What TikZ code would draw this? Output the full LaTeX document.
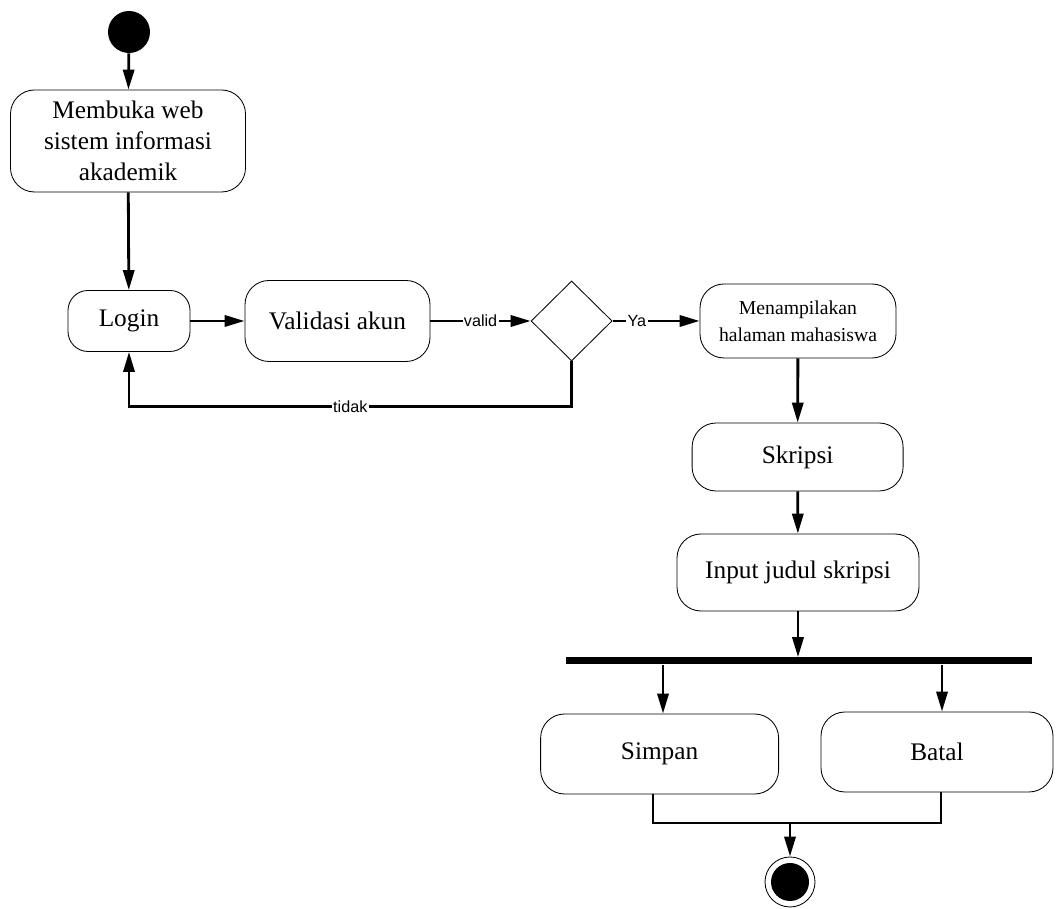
\documentclass[tikz,border=0pt]{standalone}
\usepackage{fontspec}
\setmainfont{Liberation Serif}
\newfontfamily\arialfont{Liberation Sans}
\usetikzlibrary{arrows.meta,shapes.geometric}
\begin{document}
\begin{tikzpicture}[
	aksi/.style={draw,rounded corners=0.6cm,line width=0.6pt,align=center,inner sep=0pt,font=\fontsize{18}{22}\selectfont},
	panah/.style={line width=2pt,-{Triangle[length=0.5cm,width=0.28cm]}},
	garis/.style={line width=2pt},
	ket/.style={fill=white,inner sep=1pt,font=\arialfont\fontsize{11.5}{13}\selectfont}
	]
	\useasboundingbox (0,0) rectangle (26.5,22.725);
	
	%Awal
	\node[circle,fill=black,minimum size=1.05cm,inner sep=0pt] (mulai) at (3.225,21.925) {};
	\node[aksi,minimum width=5.875cm,minimum height=2.55cm] (buka) at (3.2,19.2) {Membuka web\\sistem informasi\\akademik};
	\node[aksi,minimum width=3.05cm,minimum height=1.525cm,rounded corners=0.5cm] (login) at (3.225,14.7) {Login};
	\node[aksi,minimum width=4.625cm,minimum height=2.025cm] (validasi) at (8.4375,14.7) {Validasi akun};
	\node[diamond,draw,line width=0.6pt,minimum width=2.025cm,minimum height=2cm,inner sep=0pt] (cek) at (14.29,14.7) {};
	\node[aksi,minimum width=4.9cm,minimum height=1.85cm,font=\fontsize{14}{19}\selectfont] (tampil) at (19.95,14.7) {Menampilakan\\halaman mahasiswa};
	\node[aksi,minimum width=5.275cm,minimum height=1.7cm] (skripsi) at (19.94,11.3) {Skripsi};
	\node[aksi,minimum width=6.05cm,minimum height=1.925cm] (input) at (19.95,8.4125) {Input judul skripsi};
	
	%Percabangan
	\node[fill=black,minimum width=11.65cm,minimum height=0.175cm,inner sep=0pt] (bar) at (19.975,6.2) {};
	\node[aksi,minimum width=5.95cm,minimum height=2cm] (simpan) at (16.49,3.875) {Simpan};
	\node[aksi,minimum width=5.8cm,minimum height=2cm] (batal) at (23.425,3.925) {Batal};
	
	%Akhir
	\node[circle,draw,line width=0.6pt,minimum size=1.25cm,inner sep=0pt] (selesai) at (19.75,0.675) {};
	\fill (selesai) circle (0.475);
	\coordinate (gabung) at (19.75,2.15);
	
	\draw[panah] (mulai) -- (buka);
	\draw[panah] (buka) -- (login);
	\draw[panah] (login) -- (validasi);
	\draw[panah] (validasi.east) -- node[ket]{valid} (cek.west);
	\draw[panah] (cek.east) -- node[ket,pos=0.28]{Ya} (tampil.west);
	\draw[panah] (cek.south) -- ++(0,-1.125) -| node[ket,pos=0.25]{tidak} (login.south);
	\draw[panah] (tampil) -- (skripsi);
	\draw[panah] (skripsi) -- (input);
	\draw[panah] (input.south) -- (input.south |- bar.north);
	\draw[panah] ([xshift=0.085cm]simpan.north |- bar.south) -- ([xshift=0.085cm]simpan.north);
	\draw[panah] ([xshift=0.125cm]batal.north |- bar.south) -- ([xshift=0.125cm]batal.north);
	\draw[garis] ([xshift=-0.165cm]simpan.south) |- (gabung) -| ([xshift=0.1cm]batal.south);
	\draw[panah] (gabung) -- (selesai);
\end{tikzpicture}
\end{document}
